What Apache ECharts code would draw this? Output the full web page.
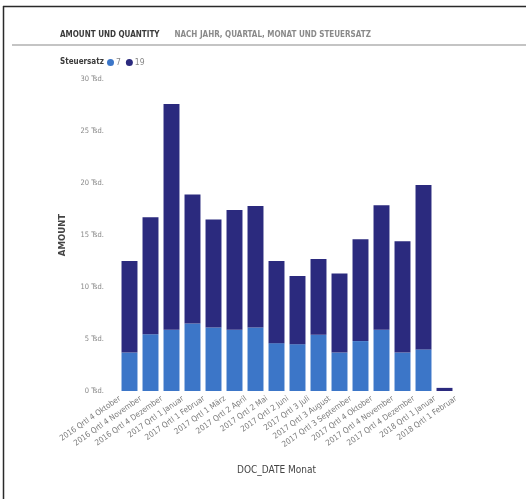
<!DOCTYPE html>
<html>
<head>
<meta charset="utf-8">
<script src="https://cdn.jsdelivr.net/npm/echarts@6/dist/echarts.min.js"></script>
<style>
html,body{margin:0;padding:0;background:#fff;}
#c{width:526px;height:499px;}
</style>
</head>
<body>
<div id="c"></div>
<script>
const categories = [
  "2016 Qrtl 4 Oktober", "2016 Qrtl 4 November", "2016 Qrtl 4 Dezember",
  "2017 Qrtl 1 Januar", "2017 Qrtl 1 Februar", "2017 Qrtl 1 März",
  "2017 Qrtl 2 April", "2017 Qrtl 2 Mai", "2017 Qrtl 2 Juni",
  "2017 Qrtl 3 Juli", "2017 Qrtl 3 August", "2017 Qrtl 3 September",
  "2017 Qrtl 4 Oktober", "2017 Qrtl 4 November", "2017 Qrtl 4 Dezember",
  "2018 Qrtl 1 Januar", "2018 Qrtl 1 Februar"
];
const seriesNames = ["7", "19"];
const amount7 = [0, 3700, 5450, 5900, 6500, 6100, 5900, 6100, 4600, 4500, 5400, 3700, 4800, 5900, 3700, 4000, 0];
const amount19 = [0, 8800, 11250, 21700, 12400, 10400, 11500, 11700, 7900, 6560, 7300, 7600, 9800, 11950, 10700, 15800, 300];
const yTicks = [0, 5000, 10000, 15000, 20000, 25000, 30000];

const chart = echarts.init(document.getElementById('c'), null, {renderer: 'canvas'});
const FONT = 'DejaVu Sans Condensed';
chart.setOption({
  animation: false,
  backgroundColor: '#ffffff',
  title: [
    {
      left: 60, top: 26, padding: 0,
      text: '{a|AMOUNT UND QUANTITY}  {b|NACH JAHR, QUARTAL, MONAT UND STEUERSATZ}',
      textStyle: {
        rich: {
          a: {fontFamily: FONT, fontSize: 8, fontWeight: 'bold', color: '#3a3a3a'},
          b: {fontFamily: FONT, fontSize: 8, color: '#8a8a8a', padding: [0, 0, 0, 5]}
        }
      }
    },
    {
      left: 60, top: 58, padding: 0,
      text: 'Steuersatz',
      textStyle: {fontFamily: FONT, fontSize: 8, fontWeight: 'bold', color: '#3a3a3a'}
    }
  ],
  legend: {
    left: 107, top: 58, padding: 0,
    icon: 'circle', itemWidth: 7, itemHeight: 7, itemGap: 5,
    data: seriesNames,
    textStyle: {fontFamily: FONT, fontSize: 8.5, color: '#888', padding: [0, 0, 0, -3]}
  },
  graphic: [
    {type: 'line', shape: {x1: 3, y1: 6.5, x2: 526, y2: 6.5}, style: {stroke: '#2a2a2a', lineWidth: 1.5}},
    {type: 'line', shape: {x1: 3.5, y1: 6, x2: 3.5, y2: 499}, style: {stroke: '#2a2a2a', lineWidth: 1.5}},
    {type: 'line', shape: {x1: 12, y1: 45, x2: 526, y2: 45}, style: {stroke: '#c4c4c4', lineWidth: 2}}
  ],
  grid: {left: 98, right: 71, top: 79, bottom: 108, containLabel: false},
  xAxis: {
    type: 'category',
    data: categories,
    axisLine: {show: false},
    axisTick: {show: false},
    axisLabel: {
      interval: 0, rotate: 35, margin: 15,
      fontFamily: FONT, fontSize: 8, color: '#7a7a7a',
      padding: [0, -14, 0, 0]
    },
    name: 'DOC_DATE Monat',
    nameLocation: 'middle',
    nameGap: 74,
    nameTextStyle: {fontFamily: FONT, fontSize: 10, color: '#444'}
  },
  yAxis: {
    type: 'value',
    min: 0, max: 30000, interval: 5000,
    axisLine: {show: false},
    axisTick: {show: false},
    splitLine: {show: false},
    axisLabel: {
      margin: -6,
      fontFamily: FONT, fontSize: 7.5, color: '#888',
      formatter: v => (v / 1000) + ' Tsd.',
      customValues: yTicks
    },
    name: 'AMOUNT',
    nameLocation: 'middle',
    nameGap: 30,
    nameTextStyle: {fontFamily: FONT, fontSize: 9.5, fontWeight: 'bold', color: '#444'}
  },
  series: [
    {name: seriesNames[0], type: 'bar', stack: 'a', data: amount7, barCategoryGap: '24%',
     itemStyle: {color: '#3c76c8'}},
    {name: seriesNames[1], type: 'bar', stack: 'a', data: amount19, barCategoryGap: '24%',
     itemStyle: {color: '#2b2a7e'}}
  ]
});
</script>
</body>
</html>
